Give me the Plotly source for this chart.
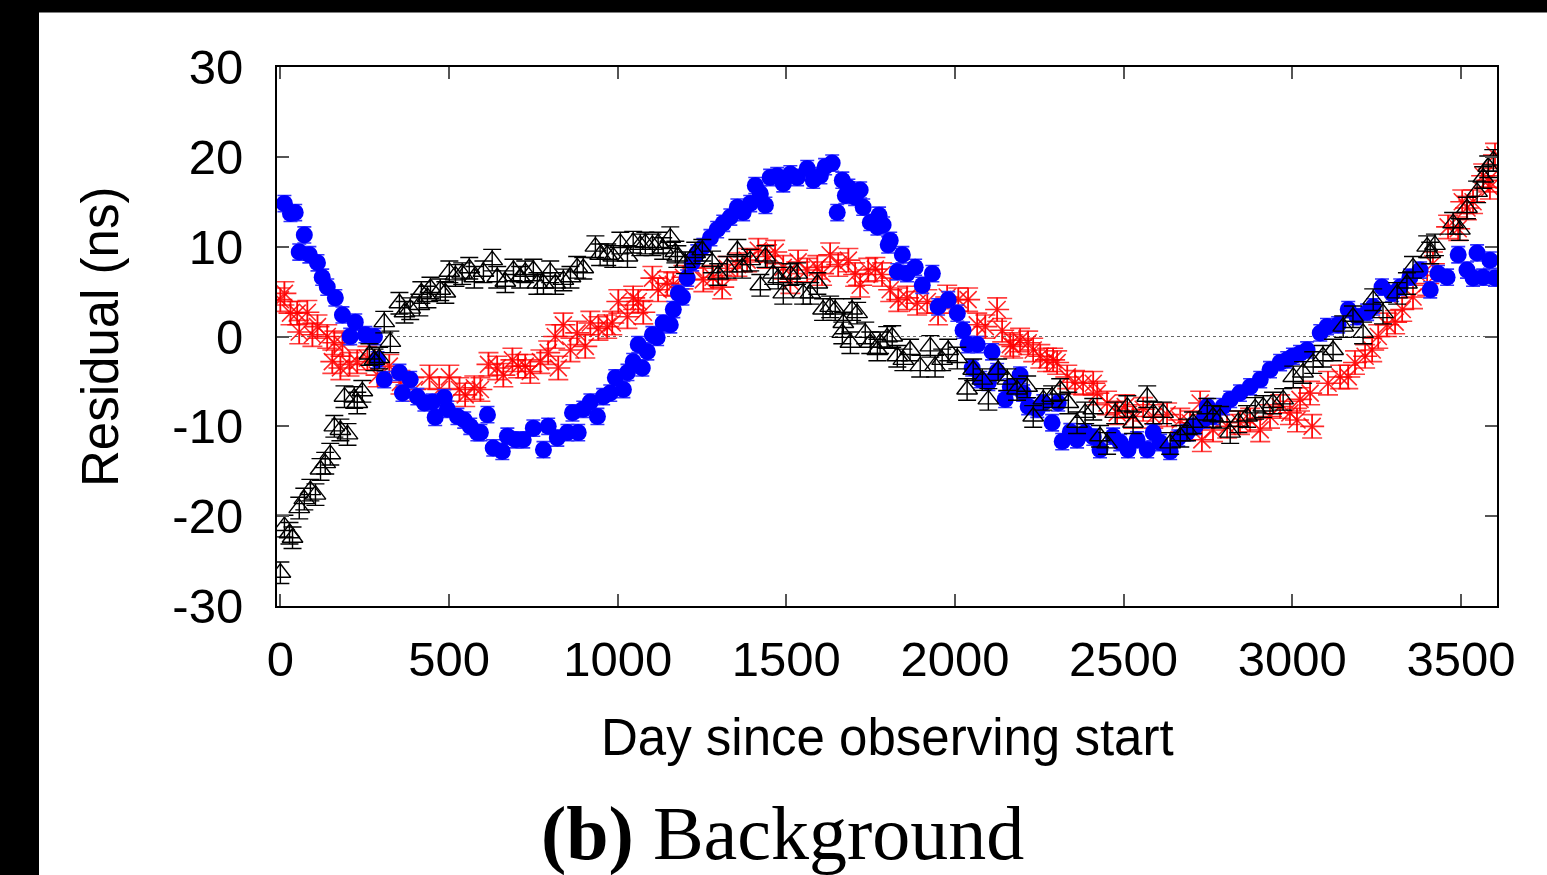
import plotly.graph_objects as go

# ---------------- data ----------------
blue_day = [12,30,44,56,71,86,110,124,139,163,184,207,222,252,279,288,308,353,362,385,406,427,451,459,486,495,525,545,563,584,593,614,631,658,673,697,720,750,780,794,821,851,866,883,898,919,940,957,978,993,1017,1029,1046,1061,1073,1088,1103,1117,1135,1156,1165,1180,1192,1206,1221,1236,1254,1275,1295,1313,1334,1355,1372,1393,1408,1423,1438,1452,1473,1491,1512,1532,1562,1580,1601,1615,1636,1651,1666,1675,1684,1704,1719,1728,1749,1770,1775,1787,1802,1808,1829,1844,1858,1882,1903,1933,1950,1980,2007,2024,2039,2051,2066,2075,2099,2110,2125,2149,2164,2193,2202,2217,2244,2262,2288,2306,2318,2342,2362,2386,2410,2430,2469,2490,2513,2540,2570,2588,2608,2638,2662,2688,2712,2736,2748,2765,2795,2816,2845,2875,2905,2934,2964,2985,3002,3023,3044,3083,3103,3136,3166,3192,3222,3240,3266,3296,3320,3349,3379,3409,3432,3459,3492,3518,3536,3548,3566,3586,3601]
blue_val = [14.8,13.7,13.8,9.4,11.3,9.1,8.2,6.6,5.5,4.3,2.4,0.0,1.6,0.2,0.0,-2.6,-4.8,-4.0,-6.3,-4.8,-6.7,-7.4,-7.3,-9.0,-6.8,-8.1,-8.9,-9.3,-10.0,-10.7,-10.7,-8.7,-12.4,-12.8,-11.1,-11.5,-11.5,-10.2,-12.6,-10.0,-11.3,-10.7,-8.5,-10.7,-8.1,-7.3,-8.9,-6.7,-6.3,-4.6,-5.9,-4.0,-2.8,-0.9,-3.5,-1.7,0.2,-0.1,1.5,1.3,3.0,4.8,4.4,6.5,8.2,9.3,10.0,11.0,11.9,12.6,13.3,14.4,13.8,14.8,16.8,15.9,14.6,17.7,17.9,17.0,18.1,17.7,18.7,17.4,17.9,18.9,19.3,13.8,17.4,15.7,16.6,15.5,16.3,14.4,12.7,12.2,13.5,12.4,10.2,10.7,7.2,9.1,7.0,7.7,5.7,7.0,3.3,4.1,2.6,0.7,-0.9,-3.5,-0.9,-4.8,-5.1,-1.7,-3.9,-7.0,-5.6,-4.3,-6.3,-7.8,-8.1,-7.4,-9.6,-7.4,-11.7,-10.6,-11.5,-10.7,-11.2,-12.6,-11.1,-11.8,-12.6,-11.5,-12.6,-10.7,-11.8,-12.8,-11.3,-10.7,-10.0,-9.3,-7.8,-8.9,-7.8,-7.0,-6.3,-5.6,-4.8,-3.7,-2.9,-2.6,-2.2,-1.9,-1.5,0.4,1.1,1.3,3.0,2.2,2.7,3.3,5.5,4.8,5.5,6.6,7.4,5.2,7.0,6.6,9.1,7.4,6.5,9.3,6.6,8.5,6.5]

black_day = [0,12,27,36,56,71,89,104,119,133,148,160,178,190,199,219,228,243,264,279,293,308,326,353,368,385,412,418,436,445,474,489,501,519,539,560,575,602,628,643,667,691,711,726,750,762,780,800,815,839,860,880,898,934,948,969,987,1008,1029,1046,1067,1082,1103,1120,1135,1156,1171,1177,1200,1230,1251,1280,1298,1325,1355,1369,1393,1423,1438,1461,1476,1491,1512,1532,1550,1571,1592,1609,1630,1645,1666,1669,1690,1695,1710,1734,1749,1770,1778,1799,1814,1829,1847,1867,1897,1927,1941,1962,1980,2007,2036,2054,2081,2099,2128,2155,2184,2214,2232,2262,2288,2312,2336,2362,2386,2410,2430,2451,2475,2511,2528,2570,2588,2617,2638,2668,2688,2706,2748,2765,2786,2816,2840,2866,2890,2914,2943,2973,3003,3032,3062,3091,3121,3151,3180,3210,3240,3269,3311,3340,3358,3400,3409,3423,3477,3497,3518,3548,3566,3581,3596]
black_val = [-26.3,-21.1,-21.9,-22.4,-19.1,-18.1,-17.1,-17.6,-14.8,-14.1,-13.1,-10.0,-10.4,-6.7,-10.9,-6.8,-7.4,-6.1,-2.0,-2.6,-2.4,1.6,-0.6,3.7,2.7,3.1,3.5,4.9,4.4,5.4,5.2,4.9,7.2,6.8,7.0,7.6,6.6,7.2,8.5,6.6,6.1,7.4,6.6,7.2,7.4,5.9,5.9,7.2,5.9,6.3,6.6,7.7,7.6,10.0,9.1,9.1,8.9,10.4,8.9,10.5,10.2,10.4,10.2,10.4,9.8,11.0,9.4,8.9,8.2,9.3,9.6,8.3,6.9,7.7,9.6,7.7,8.5,5.7,8.9,7.0,6.5,4.8,6.9,7.0,4.8,4.8,5.9,3.0,3.3,3.0,0.4,1.5,-0.7,3.0,2.6,0.4,-0.7,-1.5,-0.7,-0.1,0.0,-2.2,-2.6,-1.5,-3.3,-1.1,-3.3,-2.6,-1.5,-2.4,-5.9,-3.7,-4.8,-7.0,-3.7,-4.8,-5.9,-5.6,-8.9,-7.0,-6.7,-5.9,-7.4,-9.6,-8.5,-8.1,-11.1,-11.9,-8.5,-7.8,-9.6,-6.7,-8.5,-8.5,-11.9,-11.1,-10.4,-9.6,-8.1,-8.9,-9.0,-10.7,-9.5,-8.9,-8.0,-7.8,-7.4,-7.0,-4.5,-4.0,-2.9,-2.2,-1.5,1.1,2.2,0.4,4.1,2.6,4.8,5.9,7.7,10.0,9.3,10.2,12.6,11.9,14.3,16.1,17.7,18.9,19.6]

red_day = [0,12,30,50,56,80,95,110,139,154,160,178,184,205,228,258,288,323,356,397,442,471,501,531,548,575,593,617,643,661,688,705,726,741,771,794,815,824,839,860,880,904,919,943,969,984,1002,1029,1046,1061,1076,1103,1120,1147,1165,1195,1224,1254,1283,1310,1325,1355,1384,1417,1443,1467,1491,1512,1535,1562,1592,1606,1630,1654,1684,1704,1719,1743,1764,1784,1808,1832,1858,1888,1918,1950,1977,2010,2039,2066,2090,2125,2140,2164,2173,2193,2217,2232,2253,2273,2291,2303,2333,2356,2380,2410,2422,2451,2481,2505,2528,2558,2588,2629,2668,2697,2727,2732,2765,2807,2845,2875,2905,2934,2964,2993,3014,3023,3053,3059,3106,3142,3166,3186,3216,3237,3255,3281,3305,3326,3358,3400,3417,3462,3492,3504,3518,3536,3566,3581,3586,3601]
red_val = [4.1,4.8,2.6,2.6,0.5,2.7,0.2,1.1,0.0,-2.8,-0.7,-3.5,-0.9,-3.1,-2.8,-2.4,-4.3,-3.3,-5.1,-5.9,-4.5,-5.9,-4.5,-5.9,-6.5,-5.7,-5.9,-3.1,-3.5,-4.3,-2.6,-3.3,-3.3,-3.9,-2.8,-1.8,0.0,-3.5,1.3,-1.5,0.4,-1.1,1.5,0.9,1.1,1.5,3.9,2.2,4.3,3.9,2.7,6.5,5.2,5.9,5.8,6.6,7.7,6.3,6.6,5.5,7.6,8.0,8.5,9.6,8.9,9.4,7.7,6.1,8.3,7.4,7.7,7.0,9.1,8.0,8.5,6.9,5.7,7.4,7.5,6.9,5.2,4.1,4.3,3.7,3.9,2.6,4.4,4.1,4.1,1.3,1.1,3.0,0.7,-0.9,-1.1,-0.4,-0.7,-1.5,-2.2,-2.6,-2.6,-2.9,-4.5,-5.1,-5.2,-5.2,-6.3,-7.4,-8.5,-7.8,-8.9,-8.1,-8.9,-8.7,-9.3,-9.6,-7.4,-11.5,-10.4,-10.0,-9.6,-9.3,-10.4,-8.9,-7.8,-8.5,-9.3,-7.0,-6.3,-10.0,-5.2,-4.5,-4.5,-2.9,-2.2,-1.5,0.0,1.3,1.6,3.0,4.4,5.9,8.1,12.2,12.0,15.0,14.3,15.0,17.9,17.4,16.6,20.2]

blue_err = 0.9
black_err = 1.2
red_err = 1.3

x_ticks = [0, 500, 1000, 1500, 2000, 2500, 3000, 3500]
y_ticks = [-30, -20, -10, 0, 10, 20, 30]

x_title = "Day since observing start"
y_title = "Residual (ns)"
caption = "<b>(b)</b> Background"

# ---------------- figure ----------------
fig = go.Figure()

fig.add_trace(go.Scatter(
    x=red_day, y=red_val, mode="markers",
    marker=dict(symbol="asterisk-open", size=20, color="rgba(255,0,0,0.85)",
                line=dict(color="rgba(255,0,0,0.85)", width=1.6)),
    error_y=dict(type="data", array=[red_err] * len(red_val), color="rgba(255,0,0,0.75)",
                 thickness=1.6, width=10),
    showlegend=False))

fig.add_trace(go.Scatter(
    x=blue_day, y=blue_val, mode="markers",
    marker=dict(symbol="circle", size=17, color="#0000ff", line=dict(width=0)),
    error_y=dict(type="data", array=[blue_err] * len(blue_val), color="#3333ff",
                 thickness=1.6, width=7),
    showlegend=False))

fig.add_trace(go.Scatter(
    x=black_day, y=black_val, mode="markers",
    marker=dict(symbol="triangle-up-open", size=18, color="black",
                line=dict(color="black", width=1.4)),
    error_y=dict(type="data", array=[black_err] * len(black_val), color="black",
                 thickness=1.4, width=9),
    showlegend=False))

# dotted zero line
fig.add_shape(type="line", xref="paper", x0=0, x1=1, yref="y", y0=0, y1=0,
              line=dict(color="#666666", width=1.2, dash="dot"), layer="below")

# black frame strips (left and top) of the reference image
L, R, T, B = 277, 50, 67, 269
W, H = 1547, 875
pw, ph = W - L - R, H - T - B

def px_x(px):
    return (px - L) / pw

def px_y(py):
    return (H - B - py) / ph

fig.add_shape(type="rect", xref="paper", yref="paper",
              x0=px_x(-5), x1=px_x(39), y0=px_y(880), y1=px_y(-5),
              fillcolor="black", line=dict(width=0), layer="above")
fig.add_shape(type="rect", xref="paper", yref="paper",
              x0=px_x(-5), x1=px_x(1552), y0=px_y(12.5), y1=px_y(-5),
              fillcolor="black", line=dict(width=0), layer="above")

sans = "Liberation Sans, Arial, Helvetica, sans-serif"

fig.add_annotation(text=x_title, xref="paper", yref="paper",
                   x=px_x(887), y=px_y(737), showarrow=False,
                   font=dict(family=sans, size=51, color="black"),
                   xanchor="center", yanchor="middle")
fig.add_annotation(text=y_title, xref="paper", yref="paper",
                   x=px_x(100), y=px_y(337), showarrow=False, textangle=-90,
                   font=dict(family=sans, size=51, color="black"),
                   xanchor="center", yanchor="middle")
fig.add_annotation(text=caption, xref="paper", yref="paper",
                   x=px_x(782), y=px_y(833), showarrow=False,
                   font=dict(family="Liberation Serif, DejaVu Serif, serif", size=76, color="black"),
                   xanchor="center", yanchor="middle")

fig.update_layout(
    width=W, height=H,
    margin=dict(l=L, r=R, t=T, b=B),
    paper_bgcolor="white", plot_bgcolor="white",
    font=dict(family=sans, color="black"),
    xaxis=dict(range=[-10, 3607], tickvals=x_ticks, ticktext=[str(v) for v in x_ticks],
               showgrid=False, zeroline=False, showline=True, linecolor="black", linewidth=2,
               mirror="ticks", ticks="inside", ticklen=12, tickwidth=2, tickcolor="#555555",
               tickfont=dict(family=sans, size=49, color="black"), ticklabelstandoff=9),
    yaxis=dict(range=[-30, 30], tickvals=y_ticks, ticktext=[str(v) for v in y_ticks],
               showgrid=False, zeroline=False, showline=True, linecolor="black", linewidth=2,
               mirror="ticks", ticks="inside", ticklen=12, tickwidth=2, tickcolor="#555555",
               tickfont=dict(family=sans, size=49, color="black"), ticklabelstandoff=22),
)

fig.write_html("out.html")
